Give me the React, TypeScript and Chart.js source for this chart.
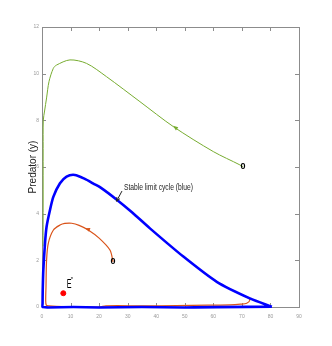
import React, { useEffect, useRef } from "react";
import { Chart, registerables } from "chart.js";
Chart.register(...registerables);

// ---- data ----
const xTicks = [0, 10, 20, 30, 40, 50, 60, 70, 80, 90];
const yTicks = [0, 2, 4, 6, 8, 10, 12];

// green trajectory (starts at marker "0")
const greenX = [70.4, 69.3, 60, 46, 34.3, 22.6, 15.6, 9.8, 5.1, 3.97, 2.45, 1.6, 0.9, 0.45, 0.4, 0.4, 0.35];
const greenY = [6.0, 6.09, 6.66, 7.73, 8.8, 9.87, 10.44, 10.59, 10.37, 10.23, 9.66, 8.96, 8.4, 8.0, 6.8, 4.5, 2.6];

// red trajectory (starts at marker "0")
const redX = [24.9, 23.8, 20, 16.2, 13, 10.4, 8, 6.3, 4, 2.2, 1.6, 1.4, 1.3, 1.5, 2.5, 5, 20, 22.4, 35, 47, 58, 65.8, 69.5, 71.7, 72.8, 72, 70.5, 67, 63, 58];
const redY = [1.93, 2.44, 2.95, 3.3, 3.5, 3.59, 3.58, 3.51, 3.3, 2.73, 2.0, 0.87, 0.3, 0.08, 0.05, 0.03, 0.0, 0.05, 0.05, 0.06, 0.08, 0.09, 0.12, 0.16, 0.3, 0.4, 0.5, 0.7, 0.95, 1.35];

// blue stable limit cycle
const blueX = [80.5, 72.8, 61.2, 49.5, 37.8, 31.5, 26.3, 20.3, 18, 15, 11.5, 8.6, 6.3, 4, 2.8, 1.6, 1.05, 0.47, 0.25, 0.2, 0.2, 2, 20, 50, 80.5];
const blueY = [0.01, 0.37, 1.08, 2.16, 3.37, 4.06, 4.59, 5.14, 5.29, 5.49, 5.66, 5.59, 5.3, 4.73, 4.16, 3.44, 2.73, 1.6, 0.7, 0.15, 0.0, -0.02, -0.02, -0.02, 0.01];

// equilibrium E*
const eqX = [7.46];
const eqY = [0.59];

// arrowheads: position and direction target (data units)
const arrowAt = [
  { x: 46.6, y: 7.7, tx: 34.3, ty: 8.8, color: "#77ac30" },
  { x: 15.9, y: 3.34, tx: 10.4, ty: 3.59, color: "#d95319" },
];

// annotation
const noteText = "Stable limit cycle (blue)";
const noteX = 28.7;
const noteY = 5.14;
const notePointX = 26.4;
const notePointY = 4.6;

const frameColor = "#8c8c8c";

const framePlugin = {
  id: "frame",
  beforeDatasetsDraw(chart: any) {
    const { ctx, chartArea, scales } = chart;
    const { left, right, top, bottom } = chartArea;
    const x = scales.x;
    const y = scales.y;
    ctx.save();
    ctx.strokeStyle = frameColor;
    ctx.lineWidth = 1;
    ctx.strokeRect(Math.round(left) + 0.5, Math.round(top) + 0.5, Math.round(right - left), Math.round(bottom - top));
    ctx.beginPath();
    xTicks.forEach((v) => {
      const px = Math.round(x.getPixelForValue(v)) + 0.5;
      ctx.moveTo(px, bottom);
      ctx.lineTo(px, bottom - 4);
      ctx.moveTo(px, top);
      ctx.lineTo(px, top + 4);
    });
    yTicks.forEach((v) => {
      const py = Math.round(y.getPixelForValue(v)) + 0.5;
      ctx.moveTo(left, py);
      ctx.lineTo(left + 4, py);
      ctx.moveTo(right, py);
      ctx.lineTo(right - 4, py);
    });
    ctx.stroke();
    ctx.restore();
  },
};

function arrowHead(ctx: any, px: number, py: number, ang: number, size: number, color: string, fill: boolean) {
  ctx.save();
  ctx.translate(px, py);
  ctx.rotate(ang);
  ctx.beginPath();
  ctx.moveTo(size * 0.5, 0);
  ctx.lineTo(-size * 0.5, -size * 0.4);
  if (fill) {
    ctx.lineTo(-size * 0.5, size * 0.4);
    ctx.closePath();
    ctx.fillStyle = color;
    ctx.fill();
  } else {
    ctx.moveTo(size * 0.5, 0);
    ctx.lineTo(-size * 0.5, size * 0.4);
    ctx.strokeStyle = color;
    ctx.lineWidth = 1;
    ctx.stroke();
  }
  ctx.restore();
}

const annotPlugin = {
  id: "annot",
  afterDatasetsDraw(chart: any) {
    const { ctx, scales } = chart;
    const x = scales.x;
    const y = scales.y;
    ctx.save();
    // arrowheads on trajectories
    arrowAt.forEach((a) => {
      const px = x.getPixelForValue(a.x);
      const py = y.getPixelForValue(a.y);
      const tx = x.getPixelForValue(a.tx);
      const ty = y.getPixelForValue(a.ty);
      arrowHead(ctx, px, py, Math.atan2(ty - py, tx - px), 5, a.color, true);
    });
    // start markers "0"
    ctx.fillStyle = "#000";
    ctx.font = 'bold 9px "Liberation Sans Narrow", "Liberation Sans", sans-serif';
    ctx.textAlign = "center";
    ctx.textBaseline = "middle";
    ctx.fillText("0", x.getPixelForValue(greenX[0]), y.getPixelForValue(greenY[0]));
    ctx.fillText("0", x.getPixelForValue(redX[0]), y.getPixelForValue(redY[0]));

    // annotation text
    const tx = x.getPixelForValue(noteX);
    const ty = y.getPixelForValue(noteY);
    ctx.font = '9px "Liberation Sans Narrow", "Liberation Sans", sans-serif';
    ctx.textAlign = "left";
    ctx.fillStyle = "#222";
    const w = ctx.measureText(noteText).width;
    const sx = 69 / w;
    ctx.save();
    ctx.translate(tx, ty);
    ctx.scale(sx, 1);
    ctx.fillText(noteText, 0, 0);
    ctx.restore();
    // annotation arrow
    const ax = x.getPixelForValue(notePointX);
    const ay = y.getPixelForValue(notePointY);
    ctx.strokeStyle = "#222";
    ctx.lineWidth = 1;
    ctx.beginPath();
    ctx.moveTo(tx - 2, ty + 4);
    ctx.lineTo(ax, ay);
    ctx.stroke();
    arrowHead(ctx, ax, ay, Math.atan2(ay - (ty + 4), ax - (tx - 2)), 4, "#222", false);

    // E* label
    const ex = x.getPixelForValue(eqX[0]);
    const ey = y.getPixelForValue(eqY[0]);
    ctx.fillStyle = "#000";
    ctx.font = '12px "Liberation Sans Narrow", "Liberation Sans", sans-serif';
    ctx.textAlign = "left";
    ctx.textBaseline = "alphabetic";
    ctx.save();
    ctx.translate(ex + 3.5, ey - 5);
    ctx.scale(0.6, 1);
    ctx.fillText("E", 0, 0);
    ctx.restore();
    ctx.font = '6px "Liberation Sans", sans-serif';
    ctx.fillText("*", ex + 7.5, ey - 12);
    ctx.restore();
  },
};

const toPts = (xs: number[], ys: number[]) => xs.map((v, i) => ({ x: v, y: ys[i] }));

export default function App() {
  const ref = useRef<HTMLCanvasElement | null>(null);
  useEffect(() => {
    if (!ref.current) return;
    const chart = new Chart(ref.current, {
      type: "scatter",
      data: {
        datasets: [
          {
            label: "E*",
            data: toPts(eqX, eqY),
            backgroundColor: "#ff0000",
            borderColor: "#ff0000",
            pointRadius: 2.5,
            showLine: false,
            clip: false as any,
          },
          {
            label: "limit cycle",
            data: toPts(blueX, blueY),
            borderColor: "#0000ff",
            borderWidth: 2.6,
            pointRadius: 0,
            showLine: true,
            tension: 0.25,
            clip: false as any,
          },
          {
            label: "red",
            data: toPts(redX, redY),
            borderColor: "#d95319",
            borderWidth: 1.2,
            pointRadius: 0,
            showLine: true,
            tension: 0.3,
            clip: false as any,
          },
          {
            label: "green",
            data: toPts(greenX, greenY),
            borderColor: "#77ac30",
            borderWidth: 1,
            pointRadius: 0,
            showLine: true,
            tension: 0.3,
            clip: false as any,
          },
        ],
      },
      options: {
        animation: false,
        responsive: false,
        layout: { padding: { top: 27, right: 33, left: 0, bottom: 0 } },
        plugins: { legend: { display: false }, tooltip: { enabled: false } },
        scales: {
          x: {
            type: "linear",
            min: 0,
            max: 90,
            grid: { display: false, drawTicks: false },
            border: { display: false },
            afterBuildTicks: (s: any) => {
              s.ticks = xTicks.map((v) => ({ value: v }));
            },
            afterFit: (s: any) => {
              s.height = 39;
            },
            ticks: {
              padding: 7,
              maxRotation: 0,
              autoSkip: false,
              color: "#999",
              font: { family: '"Liberation Sans", sans-serif', size: 5 },
            },
          },
          y: {
            type: "linear",
            min: 0,
            max: 12,
            grid: { display: false, drawTicks: false },
            border: { display: false },
            afterBuildTicks: (s: any) => {
              s.ticks = yTicks.map((v) => ({ value: v }));
            },
            afterFit: (s: any) => {
              s.width = 42;
            },
            title: {
              display: true,
              text: "Predator (y)",
              color: "#222",
              font: { family: '"Liberation Sans", sans-serif', size: 10 },
              padding: { top: 27, bottom: 0 },
            },
            ticks: {
              padding: 3,
              autoSkip: false,
              color: "#999",
              font: { family: '"Liberation Sans", sans-serif', size: 5 },
            },
          },
        },
      },
      plugins: [framePlugin, annotPlugin],
    });
    return () => chart.destroy();
  }, []);
  return (
    <div style={{ position: "absolute", left: 0, top: 0, width: 332, height: 346, background: "#fff" }}>
      <canvas ref={ref} width={332} height={346} style={{ display: "block", width: 332, height: 346 }} />
    </div>
  );
}
